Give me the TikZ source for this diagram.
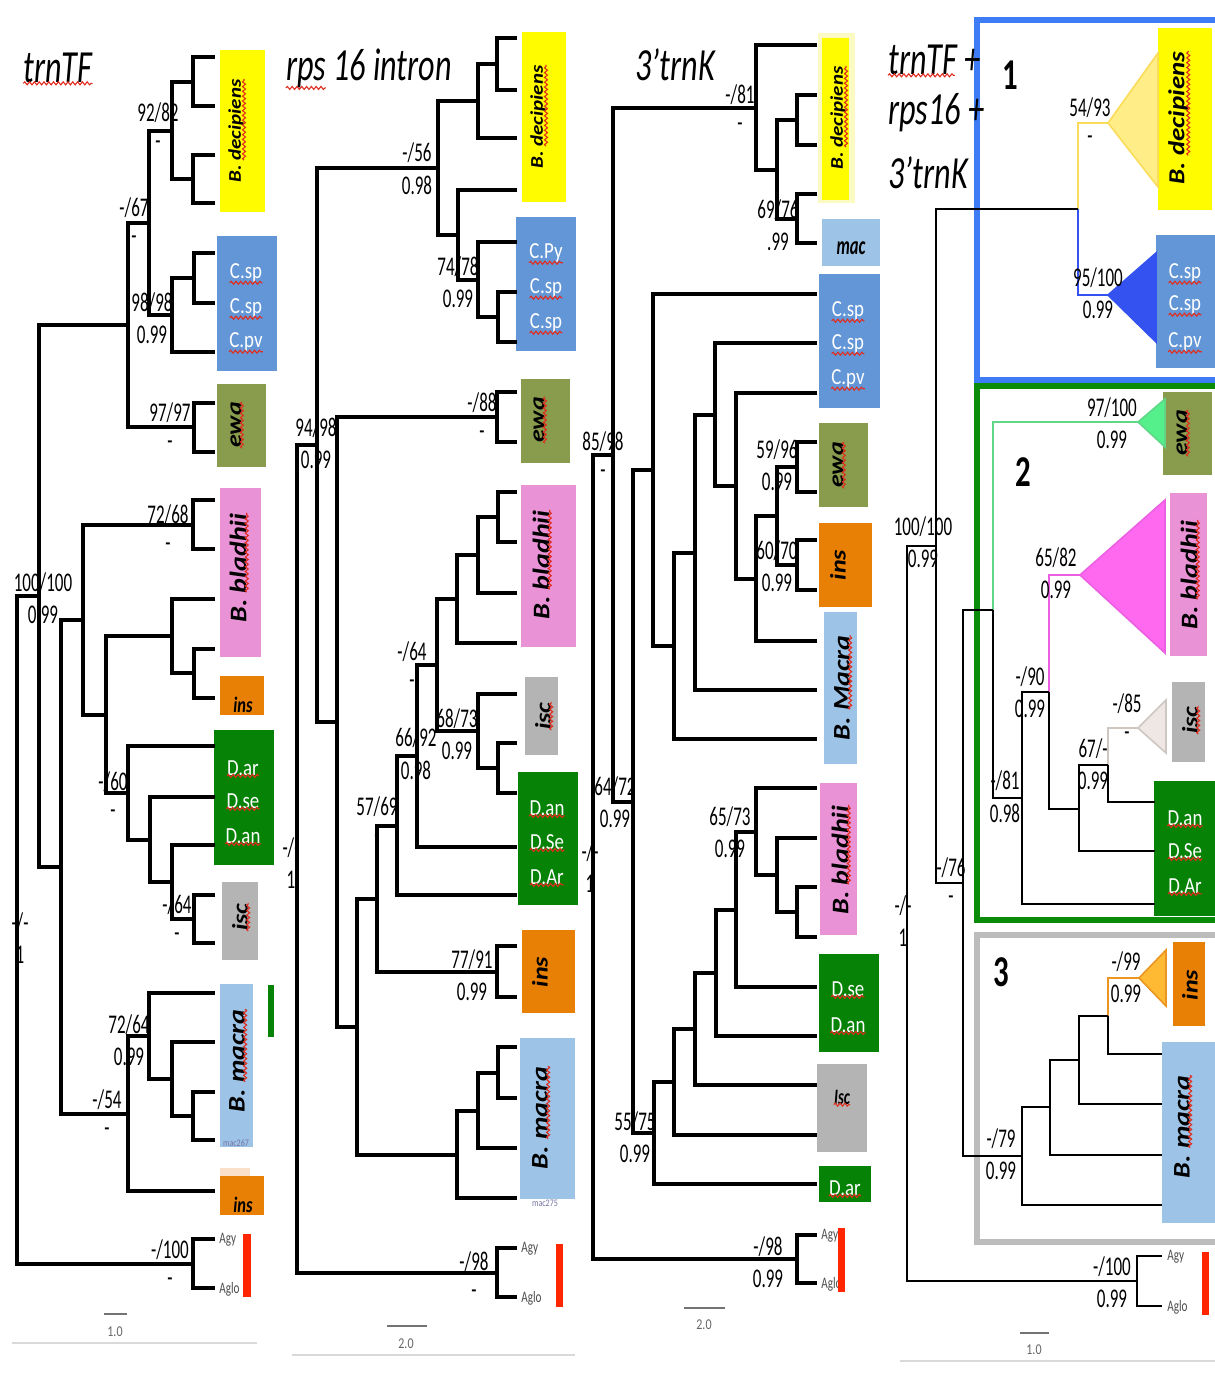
\documentclass[tikz,border=0pt]{standalone}
\usepackage{fontspec}
\setmainfont{Carlito}
\usetikzlibrary{calc,decorations.pathmorphing}

% clade colours
\definecolor{decyel}{RGB}{255,252,0}
\definecolor{decpale}{RGB}{252,250,195}
\definecolor{cspblue}{RGB}{99,150,214}
\definecolor{ewaolive}{RGB}{137,156,78}
\definecolor{blapink}{RGB}{233,147,214}
\definecolor{insorange}{RGB}{232,128,6}
\definecolor{inspeach}{RGB}{250,224,200}
\definecolor{dgreen}{RGB}{6,130,6}
\definecolor{iscgray}{RGB}{180,180,180}
\definecolor{macblue}{RGB}{157,195,230}
\definecolor{outred}{RGB}{255,38,0}
\definecolor{squig}{RGB}{225,45,30}
\definecolor{idgray}{RGB}{115,115,165}
% frames and collapsed clades
\definecolor{frblue}{RGB}{62,124,245}
\definecolor{frgreen}{RGB}{10,140,10}
\definecolor{frgray}{RGB}{188,188,188}
\definecolor{tyel}{RGB}{255,238,135}
\definecolor{tyeldraw}{RGB}{250,220,90}
\definecolor{tblue}{RGB}{52,82,240}
\definecolor{tgreen}{RGB}{85,240,140}
\definecolor{tgreendraw}{RGB}{95,215,135}
\definecolor{tpink}{RGB}{255,105,240}
\definecolor{tpinkdraw}{RGB}{235,95,225}
\definecolor{tbeige}{RGB}{238,231,227}
\definecolor{tbeigedraw}{RGB}{205,198,193}
\definecolor{torange}{RGB}{255,186,52}
\definecolor{torangedraw}{RGB}{235,150,35}

% support values: bootstrap on top, posterior below
\newcommand{\supp}[5]{%
  \node[lbl] (#1t) at (#2,#3) {#4};
  \node[lbl] (#1b) at (#2,#3+32) {#5};}
% spell-check squiggle under a text node
\newcommand{\squig}[2][0]{%
  \draw[sq] ($(#2.south west)!#1!(#2.south east)$) -- (#2.south east);}

\begin{document}
\begin{tikzpicture}[x=0.5pt, y=-0.5pt,
  br/.style={line width=1.6pt, black},
  brc/.style={line width=1.2pt, black},
  lbl/.style={font=\fontsize{13.5}{14}\selectfont, xscale=0.63, inner sep=0pt},
  ttl/.style={font=\fontsize{23}{26}\selectfont\itshape, xscale=0.7, inner sep=0pt},
  rot/.style={font=\fontsize{#1}{#1}\selectfont\bfseries\itshape, rotate=90, yscale=0.85, inner sep=0pt},
  wht/.style={font=\fontsize{11.5}{12}\selectfont, text=white, xscale=0.82, inner sep=0pt},
  itl/.style={font=\fontsize{11}{12}\selectfont\bfseries\itshape, xscale=0.75, inner sep=0pt},
  tipl/.style={font=\fontsize{8}{9}\selectfont, text=black!70, xscale=0.7, anchor=west, inner sep=0pt},
  tiny/.style={font=\fontsize{5}{5}\selectfont, text=idgray, xscale=0.8, inner sep=0pt},
  grpnum/.style={font=\fontsize{22}{24}\selectfont\bfseries, xscale=0.7, inner sep=0pt},
  scl/.style={font=\fontsize{7.5}{8}\selectfont, text=black!60, xscale=0.8, inner sep=0pt},
  sbar/.style={line width=1pt, black!55},
  sq/.style={draw=squig, line width=0.55pt, decorate, decoration={snake, amplitude=0.75pt, segment length=2.4pt}},
  clbox/.style={line width=2.6pt}
]
\path[use as bounding box] (0,0) rectangle (1215,1387);
\clip (0,0) rectangle (1215,1387);
\fill[white] (0,0) rectangle (1215,1387);

% group frames of the combined tree
\draw[clbox, frblue]  (977,20)  rectangle (1240,380);
\draw[clbox, frgreen] (977,386) rectangle (1240,920);
\draw[clbox, frgray]  (977,935) rectangle (1240,1242);

%% ---------------- trnTF ----------------
\fill[decyel] (220,50) rectangle (265,212);
\fill[cspblue] (217,236) rectangle (277,371);
\fill[ewaolive] (217,384) rectangle (266,467);
\fill[blapink] (220,488) rectangle (261,657);
\fill[insorange] (220,676) rectangle (264,715);
\fill[dgreen] (214,730) rectangle (274,865);
\fill[iscgray] (222,882) rectangle (258,960);
\fill[macblue] (220,984) rectangle (253,1147);
\fill[dgreen] (268,985) rectangle (274,1037);
\fill[inspeach] (220,1168) rectangle (250,1177);
\fill[insorange] (220,1176) rectangle (264,1215);

\coordinate (a1) at (215,57);   \coordinate (a2) at (215,106);  \coordinate (a3) at (215,155);
\coordinate (a4) at (215,203);  \coordinate (a5) at (215,253);  \coordinate (a6) at (215,303);
\coordinate (a7) at (215,352);  \coordinate (a8) at (215,403);  \coordinate (a9) at (215,452);
\coordinate (a10) at (215,500); \coordinate (a11) at (215,549); \coordinate (a12) at (215,599);
\coordinate (a13) at (215,649); \coordinate (a14) at (215,698); \coordinate (a15) at (215,746);
\coordinate (a16) at (215,797); \coordinate (a17) at (215,845); \coordinate (a18) at (215,895);
\coordinate (a19) at (215,943); \coordinate (a20) at (215,993); \coordinate (a21) at (215,1042);
\coordinate (a22) at (215,1092); \coordinate (a23) at (215,1140); \coordinate (a24) at (215,1191);
\coordinate (a25) at (215,1239); \coordinate (a26) at (215,1288);
\coordinate (aA) at (193,82);  \coordinate (aB) at (193,179); \coordinate (aC) at (172,131);
\coordinate (aD) at (194,278); \coordinate (aE) at (172,315); \coordinate (aF) at (149,223);
\coordinate (aG) at (194,427); \coordinate (aH) at (128,325); \coordinate (aI) at (193,525);
\coordinate (aJ) at (194,673); \coordinate (aK) at (172,636); \coordinate (aL) at (194,919);
\coordinate (aM) at (172,882); \coordinate (aN) at (150,840); \coordinate (aO) at (128,793);
\coordinate (aP) at (106,715); \coordinate (aQ) at (83,620);  \coordinate (aR) at (193,1116);
\coordinate (aS) at (172,1079); \coordinate (aT) at (149,1036); \coordinate (aU) at (128,1114);
\coordinate (aV) at (61,867);  \coordinate (aW) at (39,596);  \coordinate (aX) at (193,1264);
\coordinate (aRoot) at (17,930);

\draw[br] (a1) -| (aA) |- (a2);
\draw[br] (a3) -| (aB) |- (a4);
\draw[br] (aA) -| (aC) |- (aB);
\draw[br] (a5) -| (aD) |- (a6);
\draw[br] (aD) -| (aE) |- (a7);
\draw[br] (aC) -| (aF) |- (aE);
\draw[br] (a8) -| (aG) |- (a9);
\draw[br] (aF) -| (aH) |- (aG);
\draw[br] (a10) -| (aI) |- (a11);
\draw[br] (a13) -| (aJ) |- (a14);
\draw[br] (a12) -| (aK) |- (aJ);
\draw[br] (a18) -| (aL) |- (a19);
\draw[br] (a17) -| (aM) |- (aL);
\draw[br] (a16) -| (aN) |- (aM);
\draw[br] (a15) -| (aO) |- (aN);
\draw[br] (aK) -| (aP) |- (aO);
\draw[br] (aI) -| (aQ) |- (aP);
\draw[br] (a22) -| (aR) |- (a23);
\draw[br] (a21) -| (aS) |- (aR);
\draw[br] (a20) -| (aT) |- (aS);
\draw[br] (aT) -| (aU) |- (a24);
\draw[br] (aQ) -| (aV) |- (aU);
\draw[br] (aH) -| (aW) |- (aV);
\draw[br] (a25) -| (aX) |- (a26);
\draw[br] (aW) -| (aRoot) |- (aX);

\node[ttl] (t1) at (58,68) {trnTF}; \squig{t1}
\supp{aC}{158}{113}{92/82}{-}
\supp{aF}{134}{208}{-/67}{-}
\supp{aE}{152}{303}{98/98}{0.99}
\supp{aG}{170}{413}{97/97}{-}
\supp{aI}{168}{515}{72/68}{-}
\supp{aW}{43}{583}{100/100}{0.99}
\supp{aO}{113}{782}{-/60}{-}
\supp{aL}{177}{905}{-/64}{-}
\supp{aRoot}{20}{923}{-/-}{1}
\supp{aT}{129}{1025}{72/64}{0.99}
\supp{aU}{107}{1100}{-/54}{-}
\supp{aX}{170}{1250}{-/100}{-}

\node[rot=10.5] (aDecL) at (236,131) {B. decipiens}; \squig[0.22]{aDecL}
\node[wht] (aCs1) at (246,273) {C.sp}; \squig{aCs1}
\node[wht] (aCs2) at (246,308) {C.sp}; \squig{aCs2}
\node[wht] (aCs3) at (246,342) {C.pv}; \squig{aCs3}
\node[rot=13] (aEwaL) at (236,425) {ewa}; \squig{aEwaL}
\node[rot=14] (aBlaL) at (238,568) {B. bladhii}; \squig[0.28]{aBlaL}
\node[itl] (aIns1) at (243,705) {ins};
\node[wht] (aDa1) at (243,768) {D.ar}; \squig{aDa1}
\node[wht] (aDa2) at (243,801) {D.se}; \squig{aDa2}
\node[wht] (aDa3) at (243,836) {D.an}; \squig{aDa3}
\node[rot=13] (aIscL) at (240,917) {isc}; \squig{aIscL}
\node[rot=14] (aMacL) at (237,1061) {B. macra}; \squig[0.3]{aMacL}
\node[tiny] (aMacId) at (236,1143) {mac267};
\node[itl] (aIns2) at (243,1205) {ins};
\node[tipl] (aAgy) at (219,1240) {Agy};
\node[tipl] (aAglo) at (219,1289) {Aglo};
\fill[outred] (243,1234) rectangle (251,1297);
\draw[sbar] (104,1314) -- (127,1314);
\node[scl] (aScale) at (115,1332) {1.0};
\draw[black!15, line width=0.8pt] (12,1343) -- (257,1343);

%% ---------------- rps 16 intron ----------------
\fill[decyel] (522,32) rectangle (566,202);
\fill[cspblue] (516,217) rectangle (576,351);
\fill[ewaolive] (521,379) rectangle (570,463);
\fill[blapink] (521,485) rectangle (576,647);
\fill[iscgray] (525,677) rectangle (558,755);
\fill[dgreen] (518,772) rectangle (578,905);
\fill[insorange] (522,930) rectangle (575,1013);
\fill[macblue] (520,1038) rectangle (575,1199);

\coordinate (b1) at (517,38);   \coordinate (b2) at (517,90);   \coordinate (b3) at (517,138);
\coordinate (b4) at (517,190);  \coordinate (b5) at (517,242);  \coordinate (b6) at (517,292);
\coordinate (b7) at (517,342);  \coordinate (b8) at (517,392);  \coordinate (b9) at (517,442);
\coordinate (b10) at (517,492); \coordinate (b11) at (517,542); \coordinate (b12) at (517,593);
\coordinate (b13) at (517,643); \coordinate (b14) at (517,694); \coordinate (b15) at (517,743);
\coordinate (b16) at (517,793); \coordinate (b17) at (517,847); \coordinate (b18) at (517,895);
\coordinate (b19) at (517,946); \coordinate (b20) at (517,997); \coordinate (b21) at (517,1047);
\coordinate (b22) at (517,1098); \coordinate (b23) at (517,1148); \coordinate (b24) at (517,1198);
\coordinate (b25) at (517,1248); \coordinate (b26) at (517,1297);
\coordinate (bA) at (497,64);  \coordinate (bB) at (478,101); \coordinate (bC) at (498,317);
\coordinate (bD) at (478,280); \coordinate (bE) at (458,235); \coordinate (bF) at (438,168);
\coordinate (bG) at (497,417); \coordinate (bH) at (498,517); \coordinate (bI) at (478,555);
\coordinate (bJ) at (457,599); \coordinate (bK) at (498,768); \coordinate (bL) at (478,731);
\coordinate (bM) at (437,665); \coordinate (bN) at (417,756); \coordinate (bO) at (397,826);
\coordinate (bP) at (497,972); \coordinate (bQ) at (377,899); \coordinate (bR) at (498,1073);
\coordinate (bS) at (478,1111); \coordinate (bT) at (457,1155); \coordinate (bU) at (357,1027);
\coordinate (bV) at (337,722); \coordinate (bW) at (317,445); \coordinate (bX) at (497,1273);
\coordinate (bRoot) at (297,859);

\draw[br] (b1) -| (bA) |- (b2);
\draw[br] (bA) -| (bB) |- (b3);
\draw[br] (b6) -| (bC) |- (b7);
\draw[br] (b5) -| (bD) |- (bC);
\draw[br] (b4) -| (bE) |- (bD);
\draw[br] (bB) -| (bF) |- (bE);
\draw[br] (b8) -| (bG) |- (b9);
\draw[br] (b10) -| (bH) |- (b11);
\draw[br] (bH) -| (bI) |- (b12);
\draw[br] (bI) -| (bJ) |- (b13);
\draw[br] (b15) -| (bK) |- (b16);
\draw[br] (b14) -| (bL) |- (bK);
\draw[br] (bJ) -| (bM) |- (bL);
\draw[br] (bM) -| (bN) |- (b17);
\draw[br] (bN) -| (bO) |- (b18);
\draw[br] (b19) -| (bP) |- (b20);
\draw[br] (bO) -| (bQ) |- (bP);
\draw[br] (b21) -| (bR) |- (b22);
\draw[br] (bR) -| (bS) |- (b23);
\draw[br] (bS) -| (bT) |- (b24);
\draw[br] (bQ) -| (bU) |- (bT);
\draw[br] (bG) -| (bV) |- (bU);
\draw[br] (bF) -| (bW) |- (bV);
\draw[br] (b25) -| (bX) |- (b26);
\draw[br] (bW) -| (bRoot) |- (bX);

\node[ttl] (t2) at (369,68) {rps 16 intron};
\draw[sq] (t2.south west) -- ($(t2.south west)!0.24!(t2.south east)$);
\supp{bF}{417}{153}{-/56}{0.98}
\supp{bE}{458}{267}{74/78}{0.99}
\supp{bG}{482}{403}{-/88}{-}
\supp{bW}{316}{428}{94/98}{0.99}
\supp{bM}{412}{652}{-/64}{-}
\supp{bL}{457}{719}{68/73}{0.99}
\supp{bN}{416}{738}{66/92}{0.98}
\supp{bO}{377}{807}{57/69}{-}
\supp{bRoot}{291}{848}{-/-}{1}
\supp{bP}{472}{960}{77/91}{0.99}
\supp{bX}{474}{1262}{-/98}{-}

\node[rot=10.5] (bDecL) at (538,117) {B. decipiens}; \squig[0.22]{bDecL}
\node[wht] (bCs1) at (546,253) {C.Py}; \squig{bCs1}
\node[wht] (bCs2) at (546,288) {C.sp}; \squig{bCs2}
\node[wht] (bCs3) at (546,323) {C.sp}; \squig{bCs3}
\node[rot=13] (bEwaL) at (539,420) {ewa}; \squig{bEwaL}
\node[rot=14] (bBlaL) at (541,565) {B. bladhii}; \squig[0.28]{bBlaL}
\node[rot=13] (bIscL) at (543,716) {isc}; \squig{bIscL}
\node[wht] (bDa1) at (547,808) {D.an}; \squig{bDa1}
\node[wht] (bDa2) at (547,842) {D.Se}; \squig{bDa2}
\node[wht] (bDa3) at (547,877) {D.Ar}; \squig{bDa3}
\node[rot=13] (bInsL) at (540,972) {ins};
\node[rot=14] (bMacL) at (540,1118) {B. macra}; \squig[0.3]{bMacL}
\node[tiny] (bMacId) at (545,1203) {mac275};
\node[tipl] (bAgy) at (521,1249) {Agy};
\node[tipl] (bAglo) at (521,1298) {Aglo};
\fill[outred] (556,1244) rectangle (563,1307);
\draw[sbar] (387,1326) -- (427,1326);
\node[scl] (bScale) at (406,1344) {2.0};
\draw[black!15, line width=0.8pt] (292,1355) -- (575,1355);

%% ---------------- 3'trnK ----------------
\fill[decpale] (818,33) rectangle (855,203);
\fill[decyel] (822,38) rectangle (849,200);
\fill[macblue] (822,219) rectangle (880,266);
\fill[cspblue] (819,274) rectangle (880,408);
\fill[ewaolive] (819,423) rectangle (868,507);
\fill[insorange] (819,523) rectangle (872,607);
\fill[macblue] (824,612) rectangle (857,764);
\fill[blapink] (820,783) rectangle (857,935);
\fill[dgreen] (819,954) rectangle (879,1052);
\fill[iscgray] (817,1064) rectangle (867,1152);
\fill[dgreen] (819,1166) rectangle (871,1202);

\coordinate (c1) at (817,45);   \coordinate (c2) at (817,95);   \coordinate (c3) at (817,145);
\coordinate (c4) at (817,194);  \coordinate (c5) at (817,243);  \coordinate (c6) at (817,294);
\coordinate (c7) at (817,343);  \coordinate (c8) at (817,393);  \coordinate (c9) at (817,442);
\coordinate (c10) at (817,492); \coordinate (c11) at (817,540); \coordinate (c12) at (817,590);
\coordinate (c13) at (817,641); \coordinate (c14) at (817,690); \coordinate (c15) at (817,739);
\coordinate (c16) at (817,788); \coordinate (c17) at (817,838); \coordinate (c18) at (817,887);
\coordinate (c19) at (817,937); \coordinate (c20) at (817,987); \coordinate (c21) at (817,1036);
\coordinate (c22) at (817,1085); \coordinate (c23) at (817,1135); \coordinate (c24) at (817,1184);
\coordinate (c25) at (817,1235); \coordinate (c26) at (817,1283);
\coordinate (cA) at (797,120); \coordinate (cB) at (797,219); \coordinate (cC) at (777,170);
\coordinate (cD) at (756,108); \coordinate (cE) at (797,467); \coordinate (cF) at (797,565);
\coordinate (cG) at (777,516); \coordinate (cH) at (756,579); \coordinate (cI) at (736,486);
\coordinate (cJ) at (715,415); \coordinate (cK) at (695,553); \coordinate (cL) at (674,646);
\coordinate (cM) at (653,470); \coordinate (cN) at (797,912); \coordinate (cO) at (777,875);
\coordinate (cP) at (756,832); \coordinate (cQ) at (736,910); \coordinate (cR) at (716,973);
\coordinate (cS) at (695,1029); \coordinate (cT) at (674,1082); \coordinate (cU) at (654,1133);
\coordinate (cV) at (633,802); \coordinate (cW) at (613,455); \coordinate (cX) at (797,1259);
\coordinate (cRoot) at (593,857);

\draw[br] (c2) -| (cA) |- (c3);
\draw[br] (c4) -| (cB) |- (c5);
\draw[br] (cA) -| (cC) |- (cB);
\draw[br] (c1) -| (cD) |- (cC);
\draw[br] (c9) -| (cE) |- (c10);
\draw[br] (c11) -| (cF) |- (c12);
\draw[br] (cE) -| (cG) |- (cF);
\draw[br] (cG) -| (cH) |- (c13);
\draw[br] (c8) -| (cI) |- (cH);
\draw[br] (c7) -| (cJ) |- (cI);
\draw[br] (cJ) -| (cK) |- (c14);
\draw[br] (cK) -| (cL) |- (c15);
\draw[br] (c6) -| (cM) |- (cL);
\draw[br] (c18) -| (cN) |- (c19);
\draw[br] (c17) -| (cO) |- (cN);
\draw[br] (c16) -| (cP) |- (cO);
\draw[br] (cP) -| (cQ) |- (c20);
\draw[br] (cQ) -| (cR) |- (c21);
\draw[br] (cR) -| (cS) |- (c22);
\draw[br] (cS) -| (cT) |- (c23);
\draw[br] (cT) -| (cU) |- (c24);
\draw[br] (cM) -| (cV) |- (cU);
\draw[br] (cD) -| (cW) |- (cV);
\draw[br] (c25) -| (cX) |- (c26);
\draw[br] (cW) -| (cRoot) |- (cX);

\node[ttl] (t3) at (675,65) {3’trnK};
\supp{cD}{740}{95}{-/81}{-}
\supp{cB}{778}{210}{69/76}{.99}
\supp{cW}{603}{442}{85/98}{-}
\supp{cE}{777}{450}{59/96}{0.99}
\supp{cF}{777}{551}{60/70}{0.99}
\supp{cV}{615}{787}{64/72}{0.99}
\supp{cP}{730}{817}{65/73}{0.99}
\supp{cRoot}{590}{852}{-/-}{1}
\supp{cU}{635}{1122}{55/75}{0.99}
\supp{cX}{768}{1247}{-/98}{0.99}

\node[rot=10.5] (cDecL) at (838,118) {B. decipiens}; \squig[0.22]{cDecL}
\node[itl, font=\fontsize{13}{14}\selectfont\bfseries\itshape, xscale=0.85] (cMacL) at (851,248) {mac};
\node[wht] (cCs1) at (848,311) {C.sp}; \squig{cCs1}
\node[wht] (cCs2) at (848,344) {C.sp}; \squig{cCs2}
\node[wht] (cCs3) at (848,379) {C.pv}; \squig{cCs3}
\node[rot=13] (cEwaL) at (838,465) {ewa}; \squig{cEwaL}
\node[rot=13] (cInsL) at (838,565) {ins};
\node[rot=14] (cMacraL) at (842,688) {B. Macra}; \squig[0.3]{cMacraL}
\node[rot=14] (cBlaL) at (840,860) {B. bladhii}; \squig[0.28]{cBlaL}
\node[wht] (cDa1) at (848,989) {D.se}; \squig{cDa1}
\node[wht] (cDa2) at (848,1025) {D.an}; \squig{cDa2}
\node[itl, xscale=0.9] (cIscL) at (842,1097) {Isc}; \squig{cIscL}
\node[wht] (cDa3) at (845,1188) {D.ar}; \squig{cDa3}
\node[tipl] (cAgy) at (821,1236) {Agy};
\node[tipl] (cAglo) at (821,1284) {Aglo};
\fill[outred] (838,1228) rectangle (845,1292);
\draw[sbar] (684,1308) -- (725,1308);
\node[scl] (cScale) at (704,1325) {2.0};

%% ---------------- trnTF + rps16 + 3'trnK ----------------
\fill[decyel] (1158,28) rectangle (1212,210);
\fill[cspblue] (1156,235) rectangle (1215,368);
\fill[ewaolive] (1163,392) rectangle (1212,475);
\fill[blapink] (1170,493) rectangle (1207,656);
\fill[iscgray] (1172,682) rectangle (1205,762);
\fill[dgreen] (1154,781) rectangle (1215,916);
\fill[insorange] (1173,942) rectangle (1205,1026);
\fill[macblue] (1162,1042) rectangle (1215,1223);

\coordinate (dDec) at (1108,123);  \coordinate (dCsp) at (1108,295);
\coordinate (dEwa) at (1138,422);  \coordinate (dBla) at (1080,575);
\coordinate (dIsc) at (1138,728);  \coordinate (dIns) at (1139,978);
\coordinate (dD1) at (1155,802);   \coordinate (dD2) at (1155,851);  \coordinate (dD3) at (1155,904);
\coordinate (dMa1) at (1162,1054); \coordinate (dMa2) at (1162,1104);
\coordinate (dMa3) at (1162,1155); \coordinate (dMa4) at (1162,1205);
\coordinate (dAgy) at (1162,1256); \coordinate (dAglo) at (1162,1306);
\coordinate (dA) at (1078,209); \coordinate (dB) at (1108,765); \coordinate (dC) at (1079,809);
\coordinate (dE) at (1049,692); \coordinate (dF) at (1022,798); \coordinate (dG) at (993,610);
\coordinate (dH) at (1108,1016); \coordinate (dI) at (1079,1060); \coordinate (dJ) at (1050,1107);
\coordinate (dK) at (1022,1156); \coordinate (dL) at (963,883); \coordinate (dM) at (936,546);
\coordinate (dX) at (1137,1281); \coordinate (dRoot) at (907,913);

% collapsed clades
\filldraw[fill=tyel, draw=tyeldraw, line width=0.8pt] (dDec) -- (1158,53) -- (1158,187) -- cycle;
\filldraw[fill=tblue, draw=tblue, line width=0.8pt] (dCsp) -- (1156,253) -- (1156,342) -- cycle;
\filldraw[fill=tgreen, draw=tgreendraw, line width=0.8pt] (dEwa) -- (1165,399) -- (1165,447) -- cycle;
\filldraw[fill=tpink, draw=tpinkdraw, line width=0.8pt] (dBla) -- (1165,500) -- (1165,653) -- cycle;
\filldraw[fill=tbeige, draw=tbeigedraw, line width=0.8pt] (dIsc) -- (1166,700) -- (1166,753) -- cycle;
\filldraw[fill=torange, draw=torangedraw, line width=0.8pt] (dIns) -- (1166,950) -- (1166,1006) -- cycle;

\draw[brc, line width=0.9pt, draw=tyeldraw] (dDec) -| (dA);
\draw[brc, line width=0.9pt, draw=tblue] (dA) |- (dCsp);
\draw[brc, line width=0.9pt, draw=tgreendraw] (dEwa) -| (dG);
\draw[brc, line width=0.9pt, draw=tpinkdraw] (dBla) -| (dE);
\draw[brc, line width=0.9pt, draw=tbeigedraw] (dIsc) -| (dB);
\draw[brc, line width=0.9pt, draw=torangedraw] (dIns) -| (dH);
\draw[brc] (dB) |- (dD1);
\draw[brc] (dB) -| (dC) |- (dD2);
\draw[brc] (dE) |- (dC);
\draw[brc] (dE) -| (dF) |- (dD3);
\draw[brc] (dG) |- (dF);
\draw[brc] (dH) |- (dMa1);
\draw[brc] (dH) -| (dI) |- (dMa2);
\draw[brc] (dI) -| (dJ) |- (dMa3);
\draw[brc] (dJ) -| (dK) |- (dMa4);
\draw[brc] (dG) -| (dL) |- (dK);
\draw[brc] (dA) -| (dM) |- (dL);
\draw[brc] (dAgy) -| (dX) |- (dAglo);
\draw[brc] (dM) -| (dRoot) |- (dX);

\node[ttl, anchor=west] (t4a) at (888,60) {trnTF +};
\draw[sq] (t4a.south west) -- ($(t4a.south west)!0.72!(t4a.south east)$);
\node[ttl, anchor=west] (t4b) at (888,113) {rps16 +};
\node[ttl, anchor=west] (t4c) at (888,173) {3’trnK};
\node[grpnum] (g1) at (1010,75) {1};
\node[grpnum] (g2) at (1023,472) {2};
\node[grpnum] (g3) at (1001,972) {3};

\supp{dDec}{1090}{108}{54/93}{-}
\supp{dCsp}{1098}{278}{95/100}{0.99}
\supp{dEwa}{1112}{408}{97/100}{0.99}
\supp{dM}{923}{527}{100/100}{0.99}
\supp{dBla}{1056}{558}{65/82}{0.99}
\supp{dE}{1030}{677}{-/90}{0.99}
\supp{dIsc}{1127}{704}{-/85}{-}
\supp{dC}{1093}{749}{67/-}{0.99}
\supp{dF}{1005}{781}{-/81}{0.98}
\supp{dL}{951}{868}{-/76}{-}
\supp{dRoot}{903}{906}{-/-}{1}
\supp{dIns}{1126}{962}{-/99}{0.99}
\supp{dK}{1001}{1139}{-/79}{0.99}
\supp{dX}{1112}{1267}{-/100}{0.99}

\node[rot=13.5] (dDecL) at (1178,118) {B. decipiens}; \squig[0.22]{dDecL}
\node[wht] (dCs1) at (1185,273) {C.sp}; \squig{dCs1}
\node[wht] (dCs2) at (1185,305) {C.sp}; \squig{dCs2}
\node[wht] (dCs3) at (1185,342) {C.pv}; \squig{dCs3}
\node[rot=13] (dEwaL) at (1182,433) {ewa}; \squig{dEwaL}
\node[rot=14] (dBlaL) at (1189,575) {B. bladhii}; \squig[0.28]{dBlaL}
\node[rot=13] (dIscL) at (1190,720) {isc}; \squig{dIscL}
\node[wht] (dDa1) at (1185,818) {D.an}; \squig{dDa1}
\node[wht] (dDa2) at (1185,851) {D.Se}; \squig{dDa2}
\node[wht] (dDa3) at (1185,886) {D.Ar}; \squig{dDa3}
\node[rot=13] (dInsL) at (1190,985) {ins};
\node[rot=14] (dMacL) at (1182,1127) {B. macra}; \squig[0.3]{dMacL}
\node[tipl] (dAgyL) at (1167,1257) {Agy};
\node[tipl] (dAgloL) at (1167,1307) {Aglo};
\fill[outred] (1202,1252) rectangle (1209,1315);
\draw[sbar] (1020,1333) -- (1049,1333);
\node[scl] (dScale) at (1034,1350) {1.0};
\draw[black!15, line width=0.8pt] (900,1361) -- (1215,1361);
\end{tikzpicture}
\end{document}
